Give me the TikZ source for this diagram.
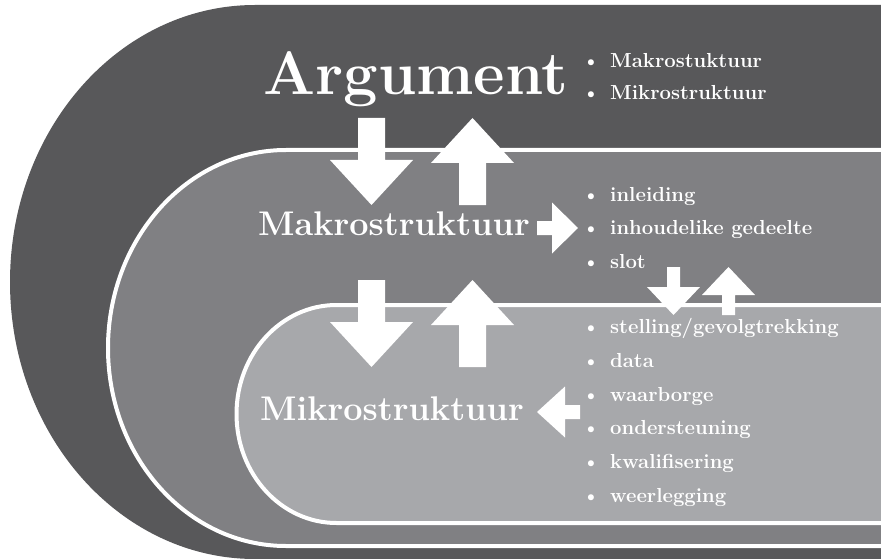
\documentclass[tikz,border=0pt]{standalone}
\usepackage{fontspec}
\setmainfont{Latin Modern Roman}
\definecolor{darkgr}{HTML}{58585A}
\definecolor{midgr}{HTML}{808083}
\definecolor{lightgr}{HTML}{A7A8AB}
\begin{document}
\begin{tikzpicture}[x=1pt,y=-1pt,
  title/.style={text=white,font=\bfseries\fontsize{61.3}{64}\selectfont,inner sep=0pt,anchor=base west},
  lbl/.style={text=white,font=\bfseries\fontsize{34.2}{37}\selectfont,inner sep=0pt,anchor=base west},
  item/.style={text=white,font=\bfseries\fontsize{20.3}{23}\selectfont,inner sep=0pt,anchor=base west},
  blockarrow/.style={fill=white},
  ring/.style={draw=white,line width=4pt}]
\path[use as bounding box] (0,0) rectangle (881,559);
\clip (0,0) rectangle (881,559);
% nested shapes
\fill[darkgr] (900,5) -- (255,5) arc[start angle=270,end angle=90,x radius=245,y radius=277] -- (900,559) -- cycle;
\filldraw[fill=midgr,ring] (900,150) -- (286,150) arc[start angle=270,end angle=90,x radius=178,y radius=198] -- (900,546) -- cycle;
\filldraw[fill=lightgr,ring] (900,305) -- (336.5,305) arc[start angle=270,end angle=90,x radius=100,y radius=109] -- (900,523) -- cycle;
% block arrows, upper pair
\fill[blockarrow] (358,118) -- (385,118) -- (385,160) -- (413,160) -- (371.5,205) -- (330,160) -- (358,160) -- cycle;
\fill[blockarrow] (472.5,118) -- (514,163) -- (486,163) -- (486,205) -- (459,205) -- (459,163) -- (431,163) -- cycle;
% block arrows, lower pair
\fill[blockarrow] (358,280) -- (385,280) -- (385,322) -- (413,322) -- (371.5,367) -- (330,322) -- (358,322) -- cycle;
\fill[blockarrow] (472.5,280) -- (514,325) -- (486,325) -- (486,367) -- (459,367) -- (459,325) -- (431,325) -- cycle;
% right arrow
\fill[blockarrow] (537,221) -- (552,221) -- (552,202.5) -- (578,228) -- (552,253.5) -- (552,235) -- (537,235) -- cycle;
% left arrow
\fill[blockarrow] (580,405) -- (565,405) -- (565,386.5) -- (537,412) -- (565,437.5) -- (565,419) -- (580,419) -- cycle;
% small arrows
\fill[blockarrow] (667,267) -- (680,267) -- (680,287) -- (700,287) -- (673.5,315) -- (647,287) -- (667,287) -- cycle;
\fill[blockarrow] (728.5,267) -- (755,295) -- (735,295) -- (735,315) -- (722,315) -- (722,295) -- (702,295) -- cycle;
% labels
\node[title] (arg) at (263,95) {Argument};
\node[lbl] (makro) at (258,235) {Makrostruktuur};
\node[lbl] (mikro) at (260,420) {Mikrostruktuur};
% lists
\node[item] (a1) at (582,68) {\makebox[28pt][l]{\textbullet}Makrostuktuur};
\node[item] (a2) at (582,100) {\makebox[28pt][l]{\textbullet}Mikrostruktuur};
\node[item] (b1) at (582,201) {\makebox[28pt][l]{\textbullet}inleiding};
\node[item] (b2) at (582,234) {\makebox[28pt][l]{\textbullet}inhoudelike gedeelte};
\node[item] (b3) at (582,268) {\makebox[28pt][l]{\textbullet}slot};
\node[item] (c1) at (582,333) {\makebox[28pt][l]{\textbullet}stelling/gevolgtrekking};
\node[item] (c2) at (582,367) {\makebox[28pt][l]{\textbullet}data};
\node[item] (c3) at (582,401) {\makebox[28pt][l]{\textbullet}waarborge};
\node[item] (c4) at (582,434.5) {\makebox[28pt][l]{\textbullet}ondersteuning};
\node[item] (c5) at (582,468) {\makebox[28pt][l]{\textbullet}kwalifisering};
\node[item] (c6) at (582,502) {\makebox[28pt][l]{\textbullet}weerlegging};
\end{tikzpicture}
\end{document}
